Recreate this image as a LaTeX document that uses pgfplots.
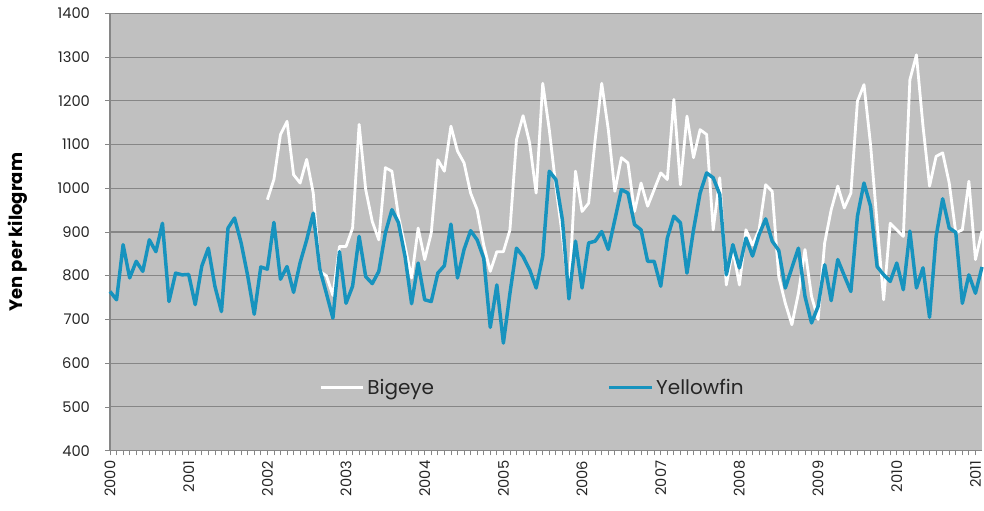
\documentclass[border=0pt]{standalone}
\usepackage{pgfplots}
\pgfplotsset{compat=1.18}
\usepackage{pgfplotstable}
\usepackage{fontspec}
\setmainfont{Poppins}
\definecolor{plotbg}{HTML}{C0C0C0}
\definecolor{gridc}{HTML}{868686}
\definecolor{yfin}{HTML}{1793BE}
\pgfplotstableread{
m v
0 764
1 745
2 871
3 795
4 833
5 810
6 882
7 855
8 920
9 741
10 806
11 802
12 803
13 734
14 822
15 863
16 776
17 718
18 909
19 932
20 875
21 800
22 712
23 820
24 815
25 922
26 792
27 821
28 762
29 830
30 882
31 943
32 815
33 760
34 703
35 855
36 737
37 776
38 890
39 798
40 782
41 810
42 898
43 951
44 921
45 844
46 736
47 829
48 745
49 741
50 806
51 823
52 918
53 795
54 860
55 903
56 882
57 840
58 682
59 779
60 646
61 760
62 863
63 844
64 814
65 772
66 844
67 1039
68 1020
69 928
70 747
71 879
72 772
73 875
74 879
75 901
76 860
77 928
78 997
79 989
80 917
81 905
82 833
83 833
84 776
85 886
86 936
87 921
88 806
89 905
90 989
91 1035
92 1024
93 986
94 802
95 871
96 818
97 886
98 845
99 894
100 930
101 879
102 858
103 772
104 818
105 863
106 753
107 692
108 730
109 825
110 743
111 837
112 800
113 764
114 936
115 1012
116 959
117 821
118 802
119 787
120 829
121 768
122 902
123 772
124 818
125 705
126 890
127 976
128 909
129 899
130 737
131 802
132 760
133 820
}\yellowfin
\pgfplotstableread{
m v
24 974
25 1020
26 1123
27 1153
28 1031
29 1012
30 1066
31 989
32 810
33 800
34 755
35 867
36 867
37 909
38 1146
39 997
40 924
41 882
42 1047
43 1039
44 936
45 867
46 795
47 909
48 837
49 898
50 1065
51 1039
52 1142
53 1085
54 1058
55 989
56 951
57 870
58 810
59 855
60 855
61 905
62 1111
63 1166
64 1104
65 989
66 1240
67 1134
68 1005
69 890
70 760
71 1039
72 947
73 966
74 1111
75 1240
76 1134
77 993
78 1070
79 1058
80 947
81 1012
82 959
83 997
84 1035
85 1020
86 1203
87 1008
88 1165
89 1070
90 1134
91 1123
92 905
93 1024
94 779
95 860
96 779
97 905
98 870
99 905
100 1008
101 993
102 798
103 737
104 688
105 760
106 860
107 753
108 700
109 875
110 951
111 1005
112 955
113 989
114 1199
115 1237
116 1100
117 920
118 745
119 920
120 905
121 890
122 1248
123 1305
124 1142
125 1005
126 1073
127 1081
128 1012
129 898
130 905
131 1016
132 837
133 902
}\bigeye
\begin{document}
\begin{tikzpicture}
\path[use as bounding box] (-82.5pt,-45pt) rectangle (655.5pt,338pt);
\begin{axis}[
  at={(0,0)}, anchor=south west,
  scale only axis, width=654pt, height=328pt,
  xmin=0, xmax=133, ymin=400, ymax=1400,
  axis background/.style={fill=plotbg},
  axis lines=left,
  axis line style={gridc, line width=0.8pt, -},
  ytick={400,500,...,1400},
  ymajorgrids, grid style={gridc, line width=0.8pt},
  xtick={0,12,...,132},
  xticklabels={2000,2001,2002,2003,2004,2005,2006,2007,2008,2009,2010,2011},
  minor x tick num=11,
  tick align=outside,
  major tick length=3.5pt, minor tick length=3.5pt,
  tick style={gridc, line width=0.6pt},
  every tick label/.append style={font=\fontsize{11}{13}\selectfont, text=black!85},
  xticklabel style={rotate=90, anchor=east, xshift=-0.5pt},
  yticklabel style={xshift=-8pt},
  /pgf/number format/assume math mode=true,
  /pgf/number format/1000 sep={},
  ylabel={\bfseries Yen per kilogram},
  ylabel style={at={(axis description cs:-0.1055,0.5)}, anchor=center, font=\fontsize{13.5}{15}\selectfont},
  legend style={at={(0.235,0.144)}, anchor=west, draw=none, fill=none,
    font=\fontsize{15}{17}\selectfont, text=black!85,
    /tikz/every even column/.append style={column sep=128pt}},
  legend columns=2,
  legend image code/.code={\draw[#1] (0pt,0pt) -- (32pt,0pt);},
  clip=false,
]
\addplot[white, line width=2.1pt, line join=round] table[x=m,y=v] {\bigeye};
\addlegendentry{Bigeye}
\addplot[yfin, line width=2.6pt, line join=round] table[x=m,y=v] {\yellowfin};
\addlegendentry{Yellowfin}
\end{axis}
\end{tikzpicture}
\end{document}
